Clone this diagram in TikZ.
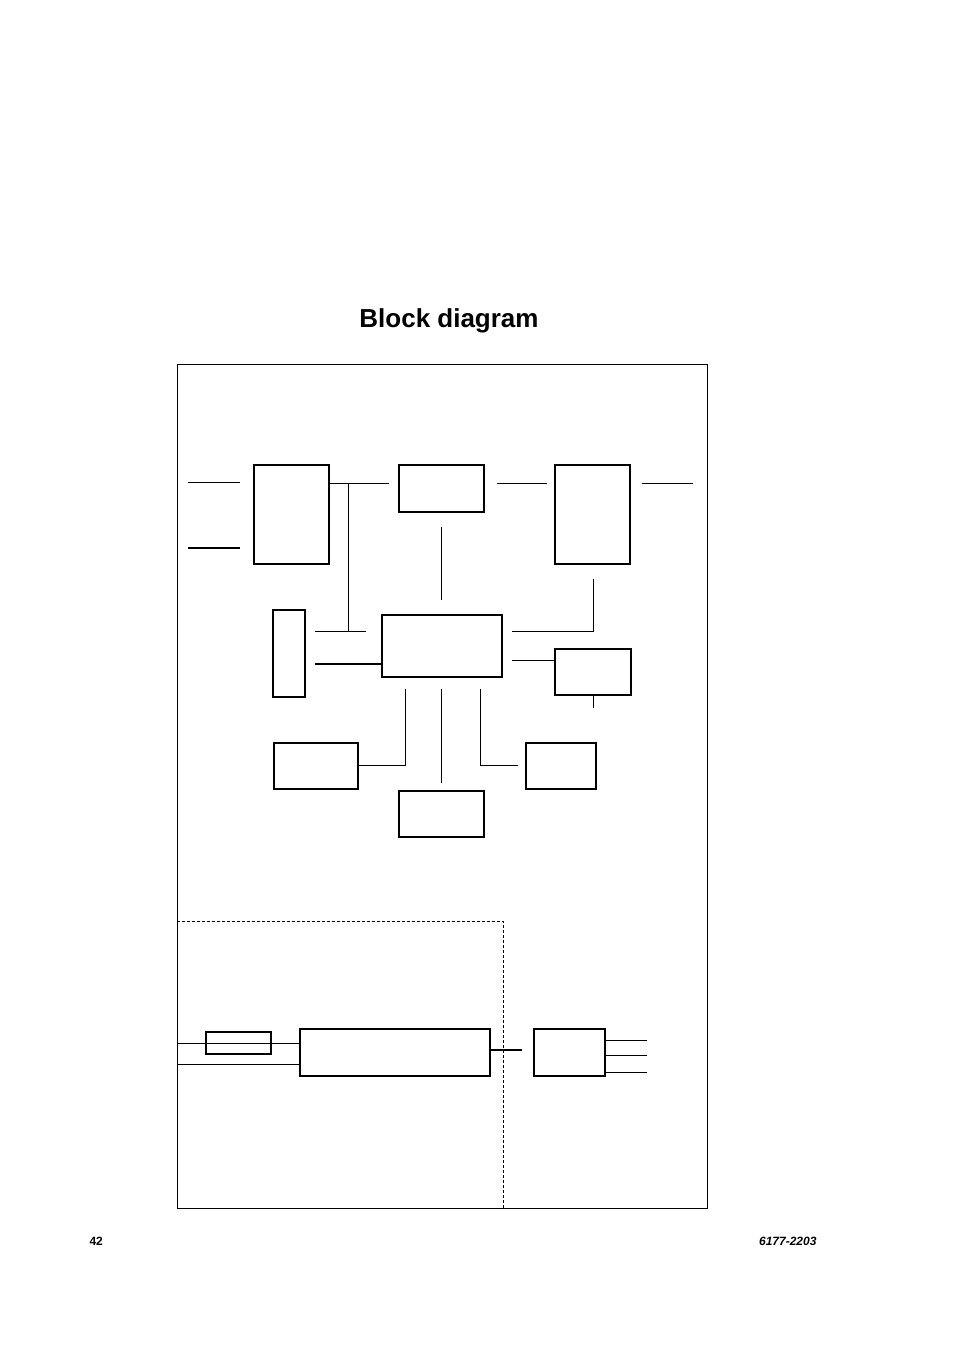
\documentclass[tikz,border=0pt]{standalone}
\usepackage{fontspec}
\setmainfont{Liberation Sans}
\tikzset{
	blk/.style={draw, line width=1.3pt, inner sep=0pt},
	wire/.style={line width=0.8pt},
	heavy/.style={line width=1.6pt}
}
\begin{document}
\begin{tikzpicture}[x=1pt,y=-1pt]
	\useasboundingbox (0,0) rectangle (954,1351);
	\node[font=\bfseries\fontsize{26}{31}\selectfont] (title) at (449,321) {Block diagram};
	\draw[line width=1pt] (177,364) rectangle (707,1208);
	\draw[wire, dashed, dash pattern=on 3pt off 2pt] (177,921) -- (503,921) -- (503,1208);
	% upper blocks
	\node[blk, minimum width=75, minimum height=99] (inbox) at (291.5,514.5) {};
	\node[blk, minimum width=85, minimum height=47] (tuner) at (441.5,488.5) {};
	\node[blk, minimum width=75, minimum height=99] (outbox) at (592.5,514.5) {};
	\node[blk, minimum width=120, minimum height=62] (cpu) at (442,646) {};
	\node[blk, minimum width=32, minimum height=87] (conn) at (289,653.5) {};
	\node[blk, minimum width=76, minimum height=46] (ctrl) at (593,672) {};
	\node[blk, minimum width=84, minimum height=46] (memL) at (316,766) {};
	\node[blk, minimum width=85, minimum height=46] (memC) at (441.5,814) {};
	\node[blk, minimum width=70, minimum height=46] (memR) at (561,766) {};
	% upper wires
	\draw[wire] (188,482) -- (240,482);
	\draw[heavy] (188,548) -- (240,548);
	\draw[wire] (inbox.east |- 0,483) -- (389,483);
	\draw[wire] (348,483) -- (348,631);
	\draw[wire] (315,631) -- (366,631);
	\draw[heavy] (315,664) -- (cpu.west |- 0,664);
	\draw[wire] (497,483) -- (547,483);
	\draw[wire] (642,483) -- (693,483);
	\draw[wire] (441,527) -- (441,600);
	\draw[wire] (512,631) -- (593,631) -- (593,579);
	\draw[wire] (512,660) -- (ctrl.west |- 0,660);
	\draw[wire] (ctrl.south) -- ++(0,12);
	\draw[wire] (405,689) -- (405,765) -- (memL.east |- 0,765);
	\draw[wire] (441,689) -- (441,783);
	\draw[wire] (480,689) -- (480,765) -- (518,765);
	% lower blocks
	\node[blk, minimum width=65, minimum height=22] (fuse) at (238.5,1043) {};
	\node[blk, minimum width=190, minimum height=47] (psu) at (395,1052.5) {};
	\node[blk, minimum width=71, minimum height=47] (reg) at (569.5,1052.5) {};
	\draw[wire] (177,1043) -- (psu.west |- 0,1043);
	\draw[wire] (177,1064) -- (psu.west |- 0,1064);
	\draw[heavy] (psu.east |- 0,1050) -- (522,1050);
	\draw[wire] (reg.east |- 0,1040) -- (647,1040);
	\draw[wire] (reg.east |- 0,1055) -- (647,1055);
	\draw[wire] (reg.east |- 0,1072) -- (647,1072);
	% footer
	\node[font=\bfseries\fontsize{12}{14}\selectfont, anchor=west] (page) at (86,1241) {42};
	\node[font=\bfseries\itshape\fontsize{12}{14}\selectfont, anchor=east] (code) at (820,1241) {6177-2203};
\end{tikzpicture}
\end{document}
